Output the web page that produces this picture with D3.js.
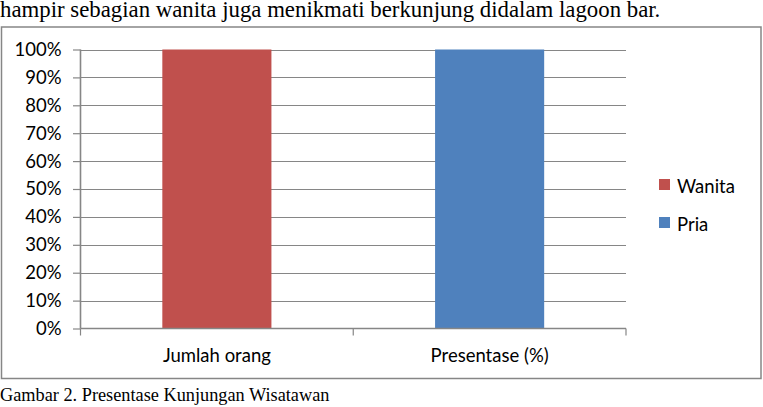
<!DOCTYPE html>
<html>
<head>
<meta charset="utf-8">
<script src="https://cdn.jsdelivr.net/npm/d3@7"></script>
<style>
  body { margin: 0; background: #fff; }
  svg { display: block; }
</style>
</head>
<body>
<div id="graph-container"></div>
<script>
const w = 763;
const h = 407;

// chart values
const categories = ["Jumlah orang", "Presentase (%)"];
const seriesNames = ["Wanita", "Pria"];
const wanita = [100, 0];
const pria = [0, 100];
const yTicks = [0, 10, 20, 30, 40, 50, 60, 70, 80, 90, 100];
const colors = ["#c0504d", "#4f81bd"];

const rows = categories.map((c, i) => ({ cat: c, Wanita: wanita[i], Pria: pria[i] }));

const sans = "Lato, Carlito, Calibri, sans-serif";
const serif = "Liberation Serif, Times New Roman, serif";
const fs = 18.5;

const svg = d3.select("#graph-container").append("svg").attr("width", w).attr("height", h);

// text line above the chart
svg.append("text")
  .attr("x", 0)
  .attr("y", 17)
  .attr("font-family", serif)
  .attr("font-size", 22.8)
  .attr("fill", "#000")
  .text("hampir sebagian wanita juga menikmati berkunjung didalam lagoon bar.");

// chart frame
svg.append("rect")
  .attr("x", 1.5)
  .attr("y", 27)
  .attr("width", 759.5)
  .attr("height", 351.5)
  .attr("fill", "#fff")
  .attr("stroke", "#868686")
  .attr("stroke-width", 1.5);

const pLeft = 80.5, pRight = 626, pTop = 49.5, pBottom = 328.5;

const xScale = d3.scaleBand().domain(categories).range([pLeft, pRight]);
const yScale = d3.scaleLinear().domain([0, 100]).range([pBottom, pTop]);

// gridlines
svg.append("g")
  .selectAll("line")
  .data(yTicks.filter((d) => d > 0))
  .enter()
  .append("line")
  .attr("x1", pLeft)
  .attr("x2", pRight)
  .attr("y1", (d) => Math.round(yScale(d)) + 0.5)
  .attr("y2", (d) => Math.round(yScale(d)) + 0.5)
  .attr("stroke", "#868686")
  .attr("stroke-width", 1.2);

// stacked bars
const stack = d3.stack().keys(seriesNames)(rows);
const bw = xScale.bandwidth() * 0.4;
svg.append("g")
  .selectAll("g")
  .data(stack)
  .enter()
  .append("g")
  .attr("fill", (d, i) => colors[i])
  .selectAll("rect")
  .data((d) => d)
  .enter()
  .append("rect")
  .attr("x", (d) => xScale(d.data.cat) + (xScale.bandwidth() - bw) / 2)
  .attr("y", (d) => yScale(d[1]))
  .attr("width", bw)
  .attr("height", (d) => yScale(d[0]) - yScale(d[1]));

// y axis
const yAxis = d3.axisLeft(yScale)
  .tickValues(yTicks)
  .tickFormat((d) => d + "%")
  .tickSize(7.5)
  .tickPadding(11.5);
const gy = svg.append("g")
  .attr("transform", `translate(${pLeft}, 0)`)
  .call(yAxis);
gy.select(".domain").remove();
gy.append("line").attr("x1", 0).attr("x2", 0).attr("y1", pTop).attr("y2", pBottom).attr("stroke", "#868686").attr("stroke-width", 1.6);
gy.selectAll(".tick line").attr("stroke", "#868686").attr("stroke-width", 1.2);
gy.selectAll(".tick text")
  .attr("font-family", sans)
  .attr("font-size", fs)
  .attr("fill", "#000");

// x axis
const xAxis = d3.axisBottom(xScale).tickSize(0).tickPadding(20.5);
const gx = svg.append("g")
  .attr("transform", `translate(0, ${pBottom})`)
  .call(xAxis);
gx.select(".domain").attr("stroke", "#868686").attr("stroke-width", 1.5).attr("d", `M${pLeft},0H${pRight}`);
gx.selectAll(".tick text")
  .attr("font-family", sans)
  .attr("font-size", fs)
  .attr("fill", "#000");
// category boundary ticks
gx.selectAll(".sep")
  .data([pLeft].concat(categories.map((c) => xScale(c) + xScale.bandwidth())))
  .enter()
  .append("line")
  .attr("x1", (d) => d)
  .attr("x2", (d) => d)
  .attr("y1", 0)
  .attr("y2", 7)
  .attr("stroke", "#868686")
  .attr("stroke-width", 1.2);

// legend
const legend = svg.append("g").attr("transform", "translate(659, 179)");
seriesNames.forEach((s, i) => {
  const g = legend.append("g").attr("transform", `translate(0, ${i * 38})`);
  g.append("rect").attr("width", 11).attr("height", 11).attr("fill", colors[i]);
  g.append("text")
    .attr("x", 18)
    .attr("y", 13.5)
    .attr("font-family", sans)
    .attr("font-size", fs)
    .attr("fill", "#000")
    .text(s);
});

// caption below the chart
svg.append("text")
  .attr("x", 0)
  .attr("y", 401)
  .attr("font-family", serif)
  .attr("font-size", 18.3)
  .attr("fill", "#000")
  .text("Gambar 2. Presentase Kunjungan Wisatawan");
</script>
</body>
</html>
